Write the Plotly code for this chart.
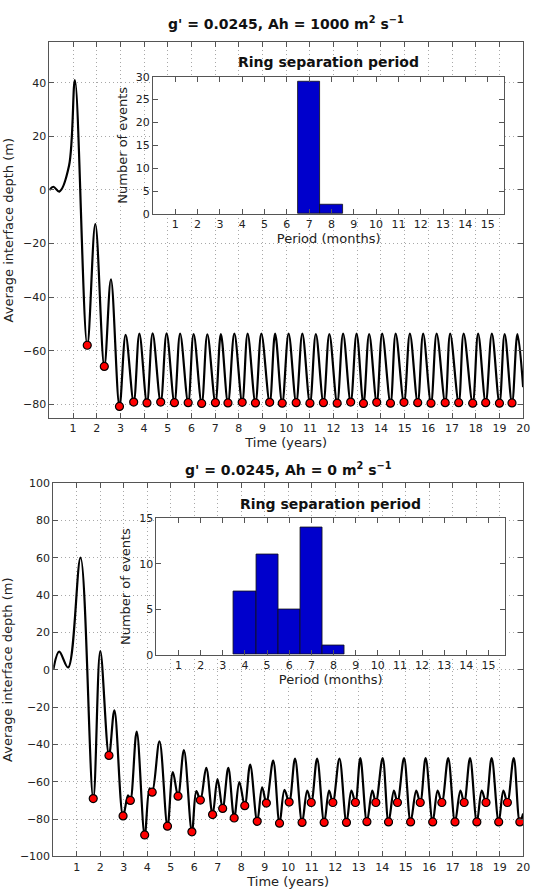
import plotly.graph_objects as go

# ---------------- data ----------------
# Top panel: g' = 0.0245, Ah = 1000
top_shape_t = [0.0, 0.17, 0.42, 0.83, 1.08, 1.94, 2.60,
               3.22, 3.80, 4.36, 4.95, 5.52, 6.09, 6.67, 7.24, 7.81, 8.37, 8.95,
               9.53, 10.10, 10.68, 11.25, 11.82, 12.40, 12.97, 13.50, 14.05, 14.62,
               15.22, 15.78, 16.35, 16.92, 17.49, 18.10, 18.68, 19.22, 19.76, 20.0]
top_shape_d = [0.0, 1.2, -0.6, 9.0, 41.0, -12.7, -33.3,
               -54.0, -53.6, -53.5, -53.5, -53.6, -53.7, -53.8, -53.7, -53.6, -53.6, -53.6,
               -53.6, -53.6, -53.6, -53.7, -53.7, -53.6, -53.6, -53.7, -53.6, -53.6,
               -53.6, -53.6, -53.6, -53.6, -53.6, -53.6, -53.6, -53.7, -53.7, -73.5]
top_event_t = [1.60, 2.32, 2.96, 3.56, 4.12, 4.70, 5.28, 5.86, 6.43, 7.01, 7.54, 8.14, 8.70,
               9.30, 9.83, 10.42, 11.00, 11.57, 12.15, 12.72, 13.26, 13.82, 14.40, 14.97,
               15.55, 16.11, 16.71, 17.28, 17.87, 18.42, 19.00, 19.53]
top_event_d = [-57.9, -65.8, -80.7, -79.1, -79.4, -79.1, -79.3, -79.3, -79.6, -79.3, -79.4,
               -79.2, -79.4, -79.2, -79.5, -79.3, -79.5, -79.3, -79.5, -79.1, -79.6, -79.2,
               -79.5, -79.2, -79.3, -79.5, -79.3, -79.3, -79.5, -79.3, -79.5, -79.4]

# Bottom panel: g' = 0.0245, Ah = 0
bot_shape_t = [0.0, 0.25, 0.63, 1.16, 2.00, 2.60, 3.18, 3.55, 4.10, 4.52, 5.09, 5.56,
               6.09, 6.51, 6.99, 7.45, 7.92, 8.38, 8.89, 9.36, 9.84, 10.29, 10.81, 11.23,
               11.74, 12.18, 12.69, 13.07, 13.58, 14.02, 14.50, 14.93, 15.45, 15.85,
               16.36, 16.81, 17.33, 17.74, 18.24, 18.66, 19.16, 19.60, 20.0]
bot_shape_d = [0.0, 9.7, 1.2, 60.0, 10.0, -21.7, -67.3, -33.2, -63.5, -38.4, -54.8, -43.0,
               -65.0, -52.6, -58.6, -52.6, -60.2, -50.8, -63.0, -48.7, -64.4, -47.6, -64.7, -47.6,
               -64.7, -47.6, -64.7, -47.4, -64.8, -47.4, -64.8, -47.4, -64.8, -47.4,
               -64.8, -47.4, -64.8, -47.4, -64.8, -47.4, -64.8, -47.4, -77.0]
bot_event_t = [1.70, 2.37, 2.97, 3.28, 3.89, 4.21, 4.86, 5.31, 5.90, 6.26, 6.78, 7.21, 7.70,
               8.15, 8.68, 9.07, 9.63, 10.04, 10.59, 10.98, 11.53, 11.90, 12.48, 12.86,
               13.35, 13.73, 14.27, 14.65, 15.21, 15.62, 16.15, 16.54, 17.10, 17.49,
               18.03, 18.42, 18.96, 19.33, 19.86]
bot_event_d = [-69.0, -45.9, -78.3, -70.0, -88.5, -65.6, -83.8, -67.7, -86.8, -69.8, -77.6,
               -74.3, -79.4, -72.8, -81.2, -71.4, -82.2, -70.9, -81.8, -71.1, -81.8, -71.1,
               -81.8, -71.1, -81.4, -71.1, -81.5, -71.1, -81.5, -71.1, -81.5, -71.1, -81.5,
               -71.1, -81.5, -71.1, -81.5, -71.1, -81.5]

# Histograms of ring separation period (months)
period_months = [1, 2, 3, 4, 5, 6, 7, 8, 9, 10, 11, 12, 13, 14, 15]
top_counts = [0, 0, 0, 0, 0, 0, 29, 2, 0, 0, 0, 0, 0, 0, 0]
bot_counts = [0, 0, 0, 7, 11, 5, 14, 1, 0, 0, 0, 0, 0, 0, 0]

top_title = "g' = 0.0245, Ah = 1000 m<sup>2</sup> s<sup>\u22121</sup>"
bot_title = "g' = 0.0245, Ah = 0 m<sup>2</sup> s<sup>\u22121</sup>"
inset_title = "Ring separation period"

# ---------------- helpers ----------------
W, H = 540, 894
FONT = "DejaVu Sans"
TXT = "#222222"


def merged(st, sd, et, ed):
    pts = sorted(list(zip(st, sd)) + list(zip(et, ed)))
    return [p[0] for p in pts], [p[1] for p in pts]


def fx(x):
    return x / W


def fy(y):
    return 1 - y / H


fig = go.Figure()

panels = [
    dict(shape=(top_shape_t, top_shape_d), ev=(top_event_t, top_event_d), counts=top_counts,
         main=("x", "y"), ins=("x2", "y2"), inset_ymax=30),
    dict(shape=(bot_shape_t, bot_shape_d), ev=(bot_event_t, bot_event_d), counts=bot_counts,
         main=("x3", "y3"), ins=("x4", "y4"), inset_ymax=15),
]
INSET_XMAX = 15.75

for p in panels:
    lt, ld = merged(p["shape"][0], p["shape"][1], p["ev"][0], p["ev"][1])
    fig.add_trace(go.Scatter(x=lt, y=ld, mode="lines",
                             line=dict(color="black", width=2.2, shape="spline", smoothing=1.0),
                             xaxis=p["main"][0], yaxis=p["main"][1], showlegend=False, hoverinfo="skip"))
    fig.add_trace(go.Scatter(x=p["ev"][0], y=p["ev"][1], mode="markers",
                             marker=dict(color="#ff0000", size=8, line=dict(color="black", width=1.2)),
                             xaxis=p["main"][0], yaxis=p["main"][1], showlegend=False))
    # white background of the inset (hides the main grid behind it)
    ym = p["inset_ymax"]
    fig.add_trace(go.Bar(x=[INSET_XMAX / 2], y=[ym], width=[INSET_XMAX],
                         marker=dict(color="white", line=dict(width=0)),
                         xaxis=p["ins"][0], yaxis=p["ins"][1], showlegend=False, hoverinfo="skip"))
    bx = [m for m, c in zip(period_months, p["counts"]) if c > 0]
    by = [c for c in p["counts"] if c > 0]
    fig.add_trace(go.Bar(x=bx, y=by, width=1.0,
                         marker=dict(color="#0000cc", line=dict(color="#111111", width=0.8)),
                         xaxis=p["ins"][0], yaxis=p["ins"][1], showlegend=False))

axis_common = dict(showline=True, linecolor="#555555", linewidth=1, mirror="ticks",
                   ticks="inside", ticklen=5, tickcolor="#555555", zeroline=False,
                   tickfont=dict(family=FONT, size=11, color=TXT))
grid = dict(showgrid=True, gridcolor="#a8a8a8", griddash="1px,3px", gridwidth=1)
nogrid = dict(showgrid=False)

fig.update_layout(
    width=W, height=H, autosize=False,
    margin=dict(l=0, r=0, t=0, b=0),
    paper_bgcolor="white", plot_bgcolor="white",
    font=dict(family=FONT, color=TXT),
    barmode="overlay", bargap=0,
    xaxis=dict(domain=[fx(50), fx(530)], range=[0, 20], tickvals=list(range(1, 21)), anchor="y",
               title=dict(text="Time (years)", standoff=2, font=dict(size=13)), **axis_common, **grid),
    yaxis=dict(domain=[fy(418), fy(37)], range=[-85, 55], tickvals=list(range(-80, 41, 20)), anchor="x",
               title=dict(text="Average interface depth (m)", standoff=6, font=dict(size=13)), **axis_common, **grid),
    xaxis2=dict(domain=[fx(155), fx(511)], range=[0, INSET_XMAX], tickvals=period_months, anchor="y2",
                title=dict(text="Period (months)", standoff=3, font=dict(size=13)), **axis_common, **nogrid),
    yaxis2=dict(domain=[fy(211), fy(71.7)], range=[0, 30], tickvals=list(range(0, 31, 5)), anchor="x2",
                title=dict(text="Number of events", standoff=5, font=dict(size=13)), **axis_common, **nogrid),
    xaxis3=dict(domain=[fx(54), fx(530)], range=[0, 20], tickvals=list(range(1, 21)), anchor="y3",
                title=dict(text="Time (years)", standoff=2, font=dict(size=13)), **axis_common, **grid),
    yaxis3=dict(domain=[fy(863), fy(484)], range=[-100, 100], tickvals=list(range(-100, 101, 20)), anchor="x3",
                title=dict(text="Average interface depth (m)", standoff=6, font=dict(size=13)), **axis_common, **grid),
    xaxis4=dict(domain=[fx(158.5), fx(511.7)], range=[0, INSET_XMAX], tickvals=period_months, anchor="y4",
                title=dict(text="Period (months)", standoff=3, font=dict(size=13)), **axis_common, **nogrid),
    yaxis4=dict(domain=[fy(658.3), fy(520)], range=[0, 15], tickvals=list(range(0, 16, 5)), anchor="x4",
                title=dict(text="Number of events", standoff=5, font=dict(size=13)), **axis_common, **nogrid),
)

ann = [
    (top_title, 290, 17, 14),
    (bot_title, 292, 470, 14),
    (inset_title, 333, 57, 14),
    (inset_title, 335, 505, 14),
]
for text, x, y, size in ann:
    fig.add_annotation(text="<b>" + text + "</b>", x=fx(x), y=fy(y), xref="paper", yref="paper",
                       showarrow=False, xanchor="center", yanchor="middle",
                       font=dict(family=FONT, size=size, color="#111111"))

fig.write_html("out.html")
